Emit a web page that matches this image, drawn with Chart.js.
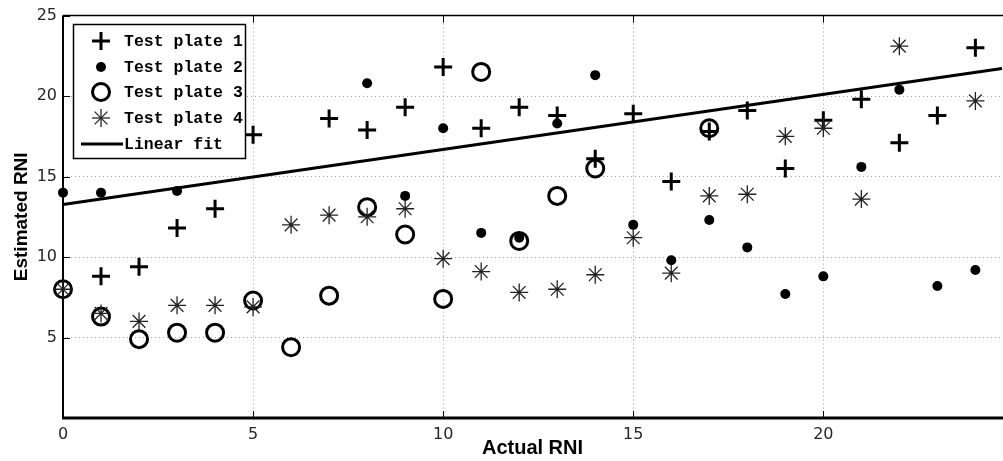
<!DOCTYPE html>
<html>
<head>
<meta charset="utf-8">
<script src="https://cdn.jsdelivr.net/npm/chart.js@4.4.0/dist/chart.umd.min.js"></script>
<style>
  html, body { margin: 0; padding: 0; background: #fff; }
  #wrap { width: 1003px; height: 461px; }
</style>
</head>
<body>
<div id="wrap"><canvas id="rniChart" width="1003" height="461"></canvas></div>
<script>
// ---- Data ----
const actualRNI = [0, 1, 2, 3, 4, 5, 6, 7, 8, 9, 10, 11, 12, 13, 14, 15, 16, 17, 18, 19, 20, 21, 22, 23, 24];
const plate1 = [null, 8.8, 9.4, 11.8, 13.0, 17.6, null, 18.6, 17.9, 19.3, 21.8, 18.0, 19.3, 18.8, 16.1, 18.9, 14.7, 17.8, 19.1, 15.5, 18.5, 19.8, 17.1, 18.8, 23.0];
const plate2 = [14.0, 14.0, null, 14.1, null, null, null, null, 20.8, 13.8, 18.0, 11.5, 11.2, 18.3, 21.3, 12.0, 9.8, 12.3, 10.6, 7.7, 8.8, 15.6, 20.4, 8.2, 9.2];
const plate3 = [8.0, 6.3, 4.9, 5.3, 5.3, 7.3, 4.4, 7.6, 13.1, 11.4, 7.4, 21.5, 11.0, 13.8, 15.5, null, null, 18.0, null, null, null, null, null, null, null];
const plate4 = [8.0, 6.5, 6.0, 7.0, 7.0, 6.9, 12.0, 12.6, 12.5, 13.0, 9.9, 9.1, 7.8, 8.0, 8.9, 11.2, 9.0, 13.8, 13.9, 17.5, 18.0, 13.6, 23.1, null, 19.7];
const fitX = [0, 24.7];
const fitY = [13.27, 21.72];
const xTicks = [0, 5, 10, 15, 20];
const yTicks = [5, 10, 15, 20, 25];
const legendLabels = ['Test plate 1', 'Test plate 2', 'Test plate 3', 'Test plate 4', 'Linear fit'];

const toPoints = (xs, ys) => xs.map((x, i) => ({ x: x, y: ys[i] }));

// ---- Frame, inward ticks and legend ----
const framePlugin = {
  id: 'frame',
  beforeDatasetsDraw(chart) {
    const { ctx, chartArea: a, scales: { x, y } } = chart;
    const seg = (x1, y1, x2, y2) => { ctx.beginPath(); ctx.moveTo(x1, y1); ctx.lineTo(x2, y2); ctx.stroke(); };
    ctx.save();
    ctx.strokeStyle = '#000';
    ctx.lineWidth = 1;
    xTicks.forEach(v => {
      const px = Math.round(x.getPixelForValue(v)) + 0.5;
      seg(px, a.bottom, px, a.bottom - 7);
      seg(px, a.top, px, a.top + 7);
    });
    yTicks.forEach(v => {
      const py = Math.round(y.getPixelForValue(v)) + 0.5;
      seg(a.left, py, a.left + 7, py);
    });
    ctx.lineWidth = 1.5;
    seg(a.left, a.top, a.right + 2, a.top);
    ctx.lineWidth = 2;
    seg(a.left, a.top, a.left, a.bottom);
    ctx.lineWidth = 3;
    seg(a.left - 1, a.bottom, a.right + 2, a.bottom);
    ctx.restore();
  },
  afterDraw(chart) {
    const ctx = chart.ctx;
    const seg = (x1, y1, x2, y2) => { ctx.beginPath(); ctx.moveTo(x1, y1); ctx.lineTo(x2, y2); ctx.stroke(); };
    const bx = 73, by = 24, bw = 172, bh = 134;
    ctx.save();
    ctx.fillStyle = '#fff';
    ctx.fillRect(bx, by, bw, bh);
    ctx.strokeStyle = '#000';
    ctx.lineWidth = 1.5;
    ctx.strokeRect(bx + 0.5, by + 0.5, bw, bh);
    const mx = 101, tx = 124;
    const rows = [41, 67, 92, 118, 144];
    ctx.font = 'bold 16.5px "Liberation Mono", "DejaVu Sans Mono", monospace';
    ctx.textBaseline = 'middle';
    ctx.textAlign = 'left';
    legendLabels.forEach((lab, i) => {
      const ry = rows[i];
      ctx.strokeStyle = '#000';
      ctx.fillStyle = '#000';
      if (i === 0) {
        ctx.lineWidth = 3;
        seg(mx - 9, ry, mx + 9, ry);
        seg(mx, ry - 9, mx, ry + 9);
      } else if (i === 1) {
        ctx.beginPath(); ctx.arc(mx, ry, 5, 0, Math.PI * 2); ctx.fill();
      } else if (i === 2) {
        ctx.lineWidth = 3;
        ctx.beginPath(); ctx.arc(mx, ry, 8.5, 0, Math.PI * 2); ctx.stroke();
      } else if (i === 3) {
        ctx.lineWidth = 1.3;
        ctx.strokeStyle = '#222';
        seg(mx - 9, ry, mx + 9, ry);
        seg(mx, ry - 9, mx, ry + 9);
        const d = 9 * Math.SQRT1_2;
        seg(mx - d, ry - d, mx + d, ry + d);
        seg(mx - d, ry + d, mx + d, ry - d);
      } else {
        ctx.lineWidth = 3;
        seg(81, ry, 123, ry);
      }
      ctx.fillStyle = '#000';
      ctx.fillText(lab, tx, ry + 1);
    });
    ctx.restore();
  }
};

// ---- Chart ----
const tickFont = { family: '"DejaVu Sans", sans-serif', size: 16 };
const gridOpts = { color: '#a0a0a0', lineWidth: 1, drawTicks: false };

const ctx = document.getElementById('rniChart').getContext('2d');
const rniChart = new Chart(ctx, {
  type: 'scatter',
  data: {
    datasets: [
      {
        label: legendLabels[0], data: toPoints(actualRNI, plate1), order: 4, clip: false,
        pointStyle: 'cross', pointRadius: 9, pointHoverRadius: 9, pointBorderWidth: 3,
        pointBorderColor: '#000', pointBackgroundColor: '#000'
      },
      {
        label: legendLabels[1], data: toPoints(actualRNI, plate2), order: 3, clip: false,
        pointStyle: 'circle', pointRadius: 5, pointHoverRadius: 5, pointBorderWidth: 0,
        pointBorderColor: '#000', pointBackgroundColor: '#000'
      },
      {
        label: legendLabels[2], data: toPoints(actualRNI, plate3), order: 2, clip: false,
        pointStyle: 'circle', pointRadius: 8.5, pointHoverRadius: 8.5, pointBorderWidth: 3,
        pointBorderColor: '#000', pointBackgroundColor: 'rgba(0,0,0,0)'
      },
      {
        label: legendLabels[3], data: toPoints(actualRNI, plate4), order: 1, clip: false,
        pointStyle: 'star', pointRadius: 9, pointHoverRadius: 9, pointBorderWidth: 1.3,
        pointBorderColor: '#222', pointBackgroundColor: '#222'
      },
      {
        label: legendLabels[4], type: 'line', data: toPoints(fitX, fitY), order: 0, clip: false,
        borderColor: '#000', borderWidth: 3, pointRadius: 0, fill: false, tension: 0
      }
    ]
  },
  options: {
    responsive: false,
    animation: false,
    events: [],
    layout: { autoPadding: false, padding: { top: 15, right: 1, left: 0, bottom: 0 } },
    scales: {
      x: {
        type: 'linear', min: 0, max: 24.7,
        afterBuildTicks: s => { s.ticks = xTicks.map(v => ({ value: v })); },
        afterFit: s => { s.height = 43; s.paddingRight = 0; s.paddingLeft = 0; },
        grid: gridOpts,
        border: { display: false, dash: [1, 3] },
        ticks: { font: tickFont, color: '#262626', padding: 7, maxRotation: 0 },
        title: {
          display: true, text: 'Actual RNI', color: '#000', padding: { top: 0, bottom: 1 },
          font: { family: '"Liberation Sans Narrow", "Liberation Sans", sans-serif', size: 20, weight: 'bold' }
        }
      },
      y: {
        type: 'linear', min: 0, max: 25,
        afterBuildTicks: s => { s.ticks = yTicks.map(v => ({ value: v })); },
        afterFit: s => { s.width = 63; },
        grid: gridOpts,
        border: { display: false, dash: [1, 3] },
        ticks: { font: tickFont, color: '#262626', padding: 6 },
        title: {
          display: true, text: 'Estimated RNI', color: '#000', padding: { top: 10, bottom: 0 },
          font: { family: '"Liberation Sans", sans-serif', size: 19, weight: 'bold' }
        }
      }
    },
    plugins: {
      legend: { display: false },
      tooltip: { enabled: false }
    }
  },
  plugins: [framePlugin]
});
</script>
</body>
</html>
